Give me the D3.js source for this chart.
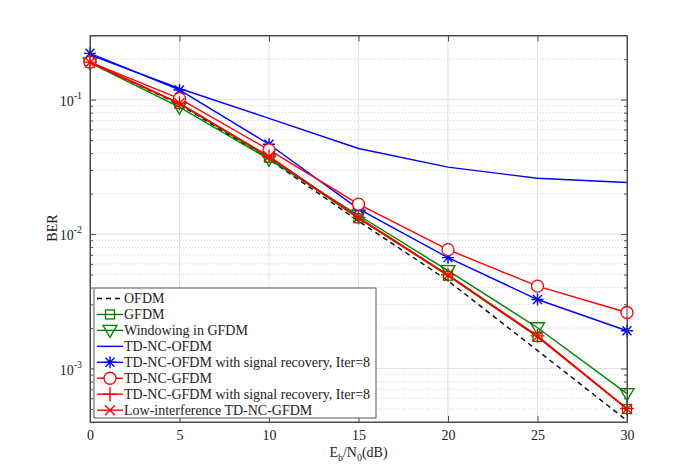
<!DOCTYPE html>
<html lang="en">
<head>
<meta charset="UTF-8">
<title>BER</title>
<style>
  body { margin: 0; background: #fff; }
  svg text { font-family: "Liberation Serif", "Times New Roman", serif; fill: #222; }
</style>
</head>
<body>
<div id="my_dataviz"></div>
<script src="https://d3js.org/d3.v7.min.js"></script>
<script>
// data
const ebn0 = [0, 5, 10, 15, 20, 25, 30];
const ofdm        = [0.190, 0.092, 0.036, 0.0125, 0.0045, 0.00136, 0.00041];
const gfdm        = [0.190, 0.093, 0.037, 0.0131, 0.0049, 0.00172, 0.00050];
const windowing   = [0.188, 0.088, 0.036, 0.0138, 0.00535, 0.00201, 0.00065];
const tdncOfdm    = [0.215, 0.121, 0.0726, 0.0433, 0.0315, 0.0260, 0.0242];
const tdncOfdmRec = [0.221, 0.118, 0.0466, 0.0154, 0.00668, 0.00326, 0.00191];
const tdncGfdm    = [0.190, 0.1017, 0.0423, 0.0167, 0.00766, 0.0041, 0.00261];
const tdncGfdmRec = [0.190, 0.094, 0.0378, 0.0133, 0.00498, 0.00175, 0.000504];
const lowInterf   = [0.189, 0.094, 0.0378, 0.0132, 0.00495, 0.00173, 0.00050];
const xTicks = [0, 5, 10, 15, 20, 25, 30];
const yDecades = [-3, -2, -1];

const series = [
  { name: "OFDM", values: ofdm, color: "#000", dash: "5,4", marker: null },
  { name: "GFDM", values: gfdm, color: "#008000", marker: "square" },
  { name: "Windowing in GFDM", values: windowing, color: "#008000", marker: "tridown" },
  { name: "TD-NC-OFDM", values: tdncOfdm, color: "#0000ff", marker: null },
  { name: "TD-NC-OFDM with signal recovery, Iter=8", values: tdncOfdmRec, color: "#0000ff", marker: "star" },
  { name: "TD-NC-GFDM", values: tdncGfdm, color: "#ff0000", marker: "circle" },
  { name: "TD-NC-GFDM with signal recovery, Iter=8", values: tdncGfdmRec, color: "#ff0000", marker: "plus" },
  { name: "Low-interference TD-NC-GFDM", values: lowInterf, color: "#ff0000", marker: "times" }
];

const serif = "Liberation Serif, Times New Roman, serif";
const margin = { top: 35.5, right: 65, bottom: 54, left: 90 },
  width = 692 - margin.left - margin.right,
  height = 476 - margin.top - margin.bottom;

const svg = d3.select("#my_dataviz")
  .append("svg")
  .attr("width", 692)
  .attr("height", 476)
  .attr("font-family", serif)
  .append("g")
  .attr("transform", `translate(${margin.left}, ${margin.top})`);

const x = d3.scaleLinear().domain([0, 30]).range([0, width]);
const y = d3.scaleLog().domain([4e-4, 0.3]).range([height, 0]);

// minor values 2..9 per decade inside the domain
const minor = [];
for (let e = -4; e <= -1; e++) {
  for (let m = 2; m <= 9; m++) {
    const v = m * Math.pow(10, e);
    if (v > y.domain()[0] && v < y.domain()[1]) minor.push(v);
  }
}
const major = yDecades.map(e => Math.pow(10, e));

// grid
svg.append("g").selectAll("line")
  .data(minor).join("line")
  .attr("x1", 0).attr("x2", width)
  .attr("y1", d => y(d)).attr("y2", d => y(d))
  .attr("stroke", "#c8c8c8").attr("stroke-width", 0.8)
  .attr("stroke-dasharray", "1,2");
svg.append("g").selectAll("line")
  .data(major).join("line")
  .attr("x1", 0).attr("x2", width)
  .attr("y1", d => y(d)).attr("y2", d => y(d))
  .attr("stroke", "#e3e3e3").attr("stroke-width", 1);
svg.append("g").selectAll("line")
  .data(xTicks.slice(1, -1)).join("line")
  .attr("x1", d => x(d)).attr("x2", d => x(d))
  .attr("y1", 0).attr("y2", height)
  .attr("stroke", "#e3e3e3").attr("stroke-width", 1);

// axes with inward ticks
const axisColor = "#4d4d4d";
function styleAxis(g) {
  g.attr("font-family", serif);
  g.select(".domain").attr("stroke", axisColor);
  g.selectAll(".tick line").attr("stroke", axisColor);
}
svg.append("g").attr("transform", `translate(0, ${height})`)
  .call(d3.axisBottom(x).tickValues(xTicks).tickSize(-6).tickSizeOuter(0).tickPadding(8))
  .call(styleAxis)
  .call(g => g.selectAll(".tick text").attr("font-size", 14).attr("fill", "#222"));
svg.append("g")
  .call(d3.axisTop(x).tickValues(xTicks).tickSize(-6).tickSizeOuter(0).tickFormat(""))
  .call(styleAxis);
svg.append("g")
  .call(d3.axisLeft(y).tickValues(major).tickSize(-6).tickSizeOuter(0).tickFormat(""))
  .call(styleAxis);
svg.append("g")
  .call(d3.axisLeft(y).tickValues(minor).tickSize(-3).tickSizeOuter(0).tickFormat(""))
  .call(styleAxis);
svg.append("g").attr("transform", `translate(${width}, 0)`)
  .call(d3.axisRight(y).tickValues(major).tickSize(-6).tickSizeOuter(0).tickFormat(""))
  .call(styleAxis);
svg.append("g").attr("transform", `translate(${width}, 0)`)
  .call(d3.axisRight(y).tickValues(minor).tickSize(-3).tickSizeOuter(0).tickFormat(""))
  .call(styleAxis);

// y tick labels 10^k
const yl = svg.append("g").selectAll("text")
  .data(yDecades).join("text")
  .attr("x", -8).attr("y", d => y(Math.pow(10, d)) + 6)
  .attr("text-anchor", "end").attr("font-size", 14);
yl.append("tspan").text("10");
yl.append("tspan").attr("dy", -7).attr("font-size", 10).text(d => "-" + Math.abs(d));

// axis labels
const xl = svg.append("text")
  .attr("x", width / 2).attr("y", height + 34.5)
  .attr("text-anchor", "middle").attr("font-size", 14);
xl.append("tspan").text("E");
xl.append("tspan").attr("dy", 4).attr("font-size", 10).text("b");
xl.append("tspan").attr("dy", -4).text("/N");
xl.append("tspan").attr("dy", 4).attr("font-size", 10).text("0");
xl.append("tspan").attr("dy", -4).text("(dB)");

svg.append("text")
  .attr("transform", `translate(-33, ${y(0.01) - 6}) rotate(-90)`)
  .attr("text-anchor", "middle").attr("font-size", 14)
  .text("BER");

// marker drawing
function drawMarker(g, type, color) {
  const s = 6;
  if (type === "square") {
    g.append("rect").attr("x", -4.5).attr("y", -4.5).attr("width", 9).attr("height", 9)
      .attr("fill", "none").attr("stroke", color).attr("stroke-width", 1.3);
  } else if (type === "tridown") {
    g.append("path").attr("d", "M-7,-5L7,-5L0,7Z")
      .attr("fill", "none").attr("stroke", color).attr("stroke-width", 1.3);
  } else if (type === "circle") {
    g.append("circle").attr("r", s)
      .attr("fill", "#fff").attr("stroke", color).attr("stroke-width", 1.3);
  } else if (type === "star") {
    g.append("path").attr("d", `M-${s},0L${s},0M0,-${s}L0,${s}M-4.5,-4.5L4.5,4.5M-4.5,4.5L4.5,-4.5`)
      .attr("stroke", color).attr("stroke-width", 1.4);
  } else if (type === "plus") {
    g.append("path").attr("d", `M-${s + 1},0L${s + 1},0M0,-${s + 1}L0,${s + 1}`)
      .attr("stroke", color).attr("stroke-width", 1.4);
  } else if (type === "times") {
    g.append("path").attr("d", "M-5,-5L5,5M-5,5L5,-5")
      .attr("stroke", color).attr("stroke-width", 1.4);
  }
}

const line = d3.line()
  .x((d, i) => x(ebn0[i]))
  .y(d => y(d));

const plot = svg.append("g");
series.forEach(s => {
  plot.append("path")
    .attr("d", line(s.values))
    .attr("fill", "none")
    .attr("stroke", s.color)
    .attr("stroke-width", 1.4)
    .attr("stroke-dasharray", s.dash || null);
  if (s.marker) {
    s.values.forEach((v, i) => {
      const g = plot.append("g").attr("transform", `translate(${x(ebn0[i])}, ${y(v)})`);
      drawMarker(g, s.marker, s.color);
    });
  }
});

// box on top
svg.append("rect").attr("width", width).attr("height", height)
  .attr("fill", "none").attr("stroke", axisColor).attr("stroke-width", 1);

// legend
const lg = svg.append("g").attr("transform", `translate(${94 - margin.left}, ${288 - margin.top})`);
lg.append("rect").attr("width", 282).attr("height", 130)
  .attr("fill", "#fff").attr("stroke", "#555").attr("stroke-width", 1);
series.forEach((s, i) => {
  const row = lg.append("g").attr("transform", `translate(0, ${10.5 + i * 15.95})`);
  row.append("line").attr("x1", 3).attr("x2", 29)
    .attr("stroke", s.color).attr("stroke-width", 1.4)
    .attr("stroke-dasharray", s.dash || null);
  if (s.marker) {
    const g = row.append("g").attr("transform", "translate(16, 0)");
    drawMarker(g, s.marker, s.color);
  }
  row.append("text").attr("x", 30).attr("y", 4.5)
    .attr("font-size", 14).text(s.name);
});
</script>
</body>
</html>
